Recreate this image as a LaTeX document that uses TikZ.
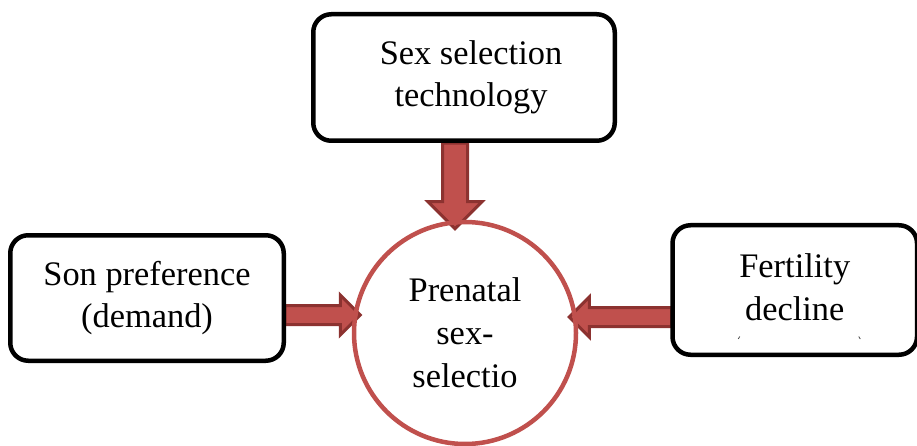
\documentclass[tikz,border=0pt]{standalone}
\usepackage{fontspec}
\setmainfont{LiberationSerif-Regular.ttf}
\usetikzlibrary{shapes.arrows,calc,backgrounds}
\definecolor{arrowfill}{HTML}{C0504D}
\definecolor{arrowedge}{HTML}{8C3230}
\definecolor{ringred}{HTML}{C0504D}
\tikzset{
  factorbox/.style={draw=black, line width=4.5pt, rounded corners=18pt, fill=white,
    align=center, inner sep=0pt, font=\rmfamily\fontsize{34.4}{42}\selectfont},
  outcome/.style={circle, draw=ringred, line width=4.5pt, minimum size=222pt,
    inner sep=0pt, align=center, font=\rmfamily\fontsize{34.4}{43}\selectfont},
  fatarrow/.style={shape=single arrow, draw=arrowedge, fill=arrowfill, line width=3pt,
    inner xsep=0pt, single arrow tip angle=90},
  widearrow/.style={fatarrow, inner ysep=11pt, single arrow head extend=14.5pt},
  slimarrow/.style={fatarrow, inner ysep=8pt, single arrow head extend=10.5pt},
  tick/.style={line width=0.8pt, black!70}
}
% draws a block arrow of the given style from #2 to #3
\newcommand\blockarrow[3]{%
  \path let \p1=($(#3)-(#2)$), \n1={veclen(\x1,\y1)}, \n2={atan2(\y1,\x1)} in
    node[#1, minimum height=\n1, rotate=\n2] at ($(#2)!0.5!(#3)$) {};}
\begin{document}
\begin{tikzpicture}[x=1pt, y=-1pt]
  \useasboundingbox (0,0) rectangle (917,446);

  % boxes and the central circle
  \node[outcome] (circ) at (465,333) {Prenatal\\sex-\\selectio};
  \node[factorbox, minimum width=301.5pt, minimum height=126.5pt] (tb) at (464,77.5)
    {\hspace*{14pt}Sex selection\\\hspace*{14pt}technology};
  \node[factorbox, minimum width=273.5pt, minimum height=125.5pt] (lb) at (147,298)
    {Son preference\\(demand)};
  \node[factorbox, minimum width=244.5pt, minimum height=129.5pt, anchor=west] (rb) at (670.25,290)
    {\raisebox{6pt}{\shortstack{Fertility\\[8pt]decline}}};

  % end points of the block arrows
  \coordinate (ta) at ($(tb.south)+(-9,-6)$);
  \coordinate (tt) at ($(circ.center)+(-10,-110.5)$);
  \coordinate (la) at ($(lb.east)+(-6,17)$);
  \coordinate (lt) at ($(circ.center)+(-109.5,-18)$);
  \coordinate (ra) at ($(rb.west)+(6,27)$);
  \coordinate (rt) at ($(circ.center)+(109,-16)$);

  % arrows sit behind the boxes and the ring
  \begin{scope}[on background layer]
    \blockarrow{widearrow}{ta}{tt}
    \blockarrow{slimarrow}{la}{lt}
    \blockarrow{slimarrow}{ra}{rt}
  \end{scope}

  % small marks near the bottom of the fertility box
  \coordinate (m1) at ($(rb.south west)+(68,-18)$);
  \coordinate (m2) at ($(rb.south west)+(190,-18)$);
  \draw[tick] (m1) -- ++(1.5,-2.5);
  \draw[tick] (m2) -- ++(-1.5,-2.5);
\end{tikzpicture}
\end{document}
